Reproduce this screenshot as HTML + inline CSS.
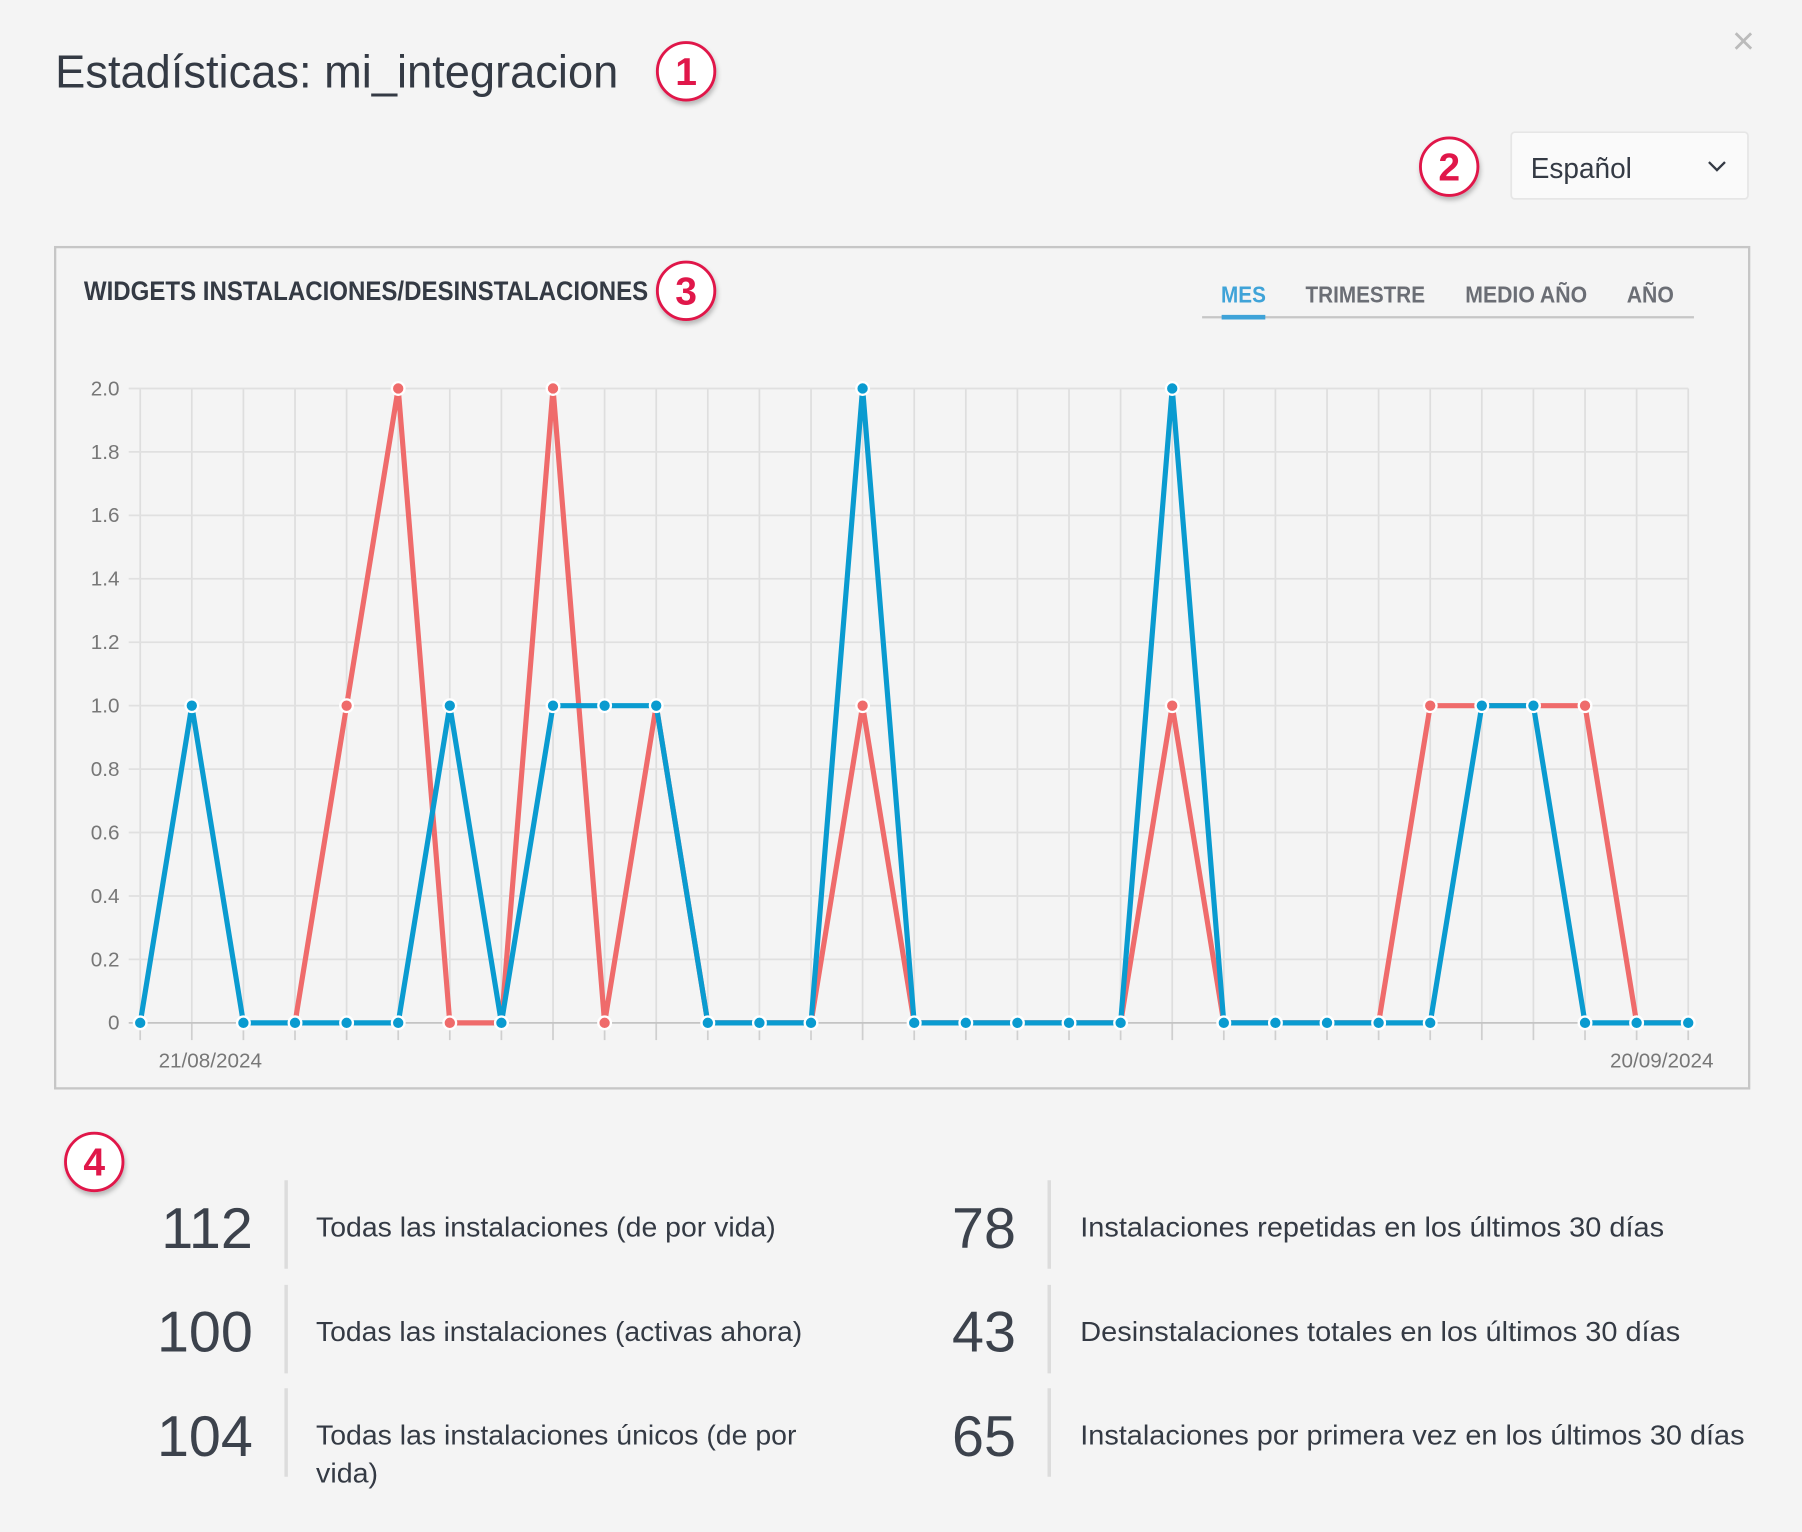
<!DOCTYPE html>
<html><head><meta charset="utf-8"><style>
html,body{margin:0;padding:0;background:#f4f4f4;}
svg{display:block;}
text{font-family:"Liberation Sans Narrow","Liberation Sans",sans-serif;}
</style></head><body>
<svg id="s" width="1802" height="1532" viewBox="0 0 1568 1333" xmlns="http://www.w3.org/2000/svg">
<defs><filter id="sh" x="-30%" y="-30%" width="160%" height="160%"><feDropShadow dx="1" dy="3" stdDeviation="2" flood-color="#000" flood-opacity="0.25"/></filter></defs>
<rect width="1568" height="1333" fill="#f4f4f4"/>
<text x="48" y="76" font-size="40" fill="#343a44" textLength="490" lengthAdjust="spacingAndGlyphs">Estadísticas: mi_integracion</text>
<text x="1517" y="47" font-size="34" fill="#bbb" text-anchor="middle">×</text>
<rect x="1315" y="115" width="206" height="58" rx="3" fill="#fafafa" stroke="#e6e6e6" stroke-width="1.5"/>
<text x="1332" y="155" font-size="25" fill="#343a44" textLength="88" lengthAdjust="spacingAndGlyphs">Español</text>
<path d="M1487 141 L1494 148 L1501 141" fill="none" stroke="#343a44" stroke-width="2"/>
<rect x="48" y="215" width="1474" height="732" fill="none" stroke="#c6c6c6" stroke-width="2"/>
<text x="73" y="261" font-size="23" font-weight="bold" fill="#343a44" textLength="491" lengthAdjust="spacingAndGlyphs">WIDGETS INSTALACIONES/DESINSTALACIONES</text>
<g font-size="20" font-weight="bold" text-anchor="middle">
<text x="1082" y="263" fill="#3fa3d8" textLength="39" lengthAdjust="spacingAndGlyphs">MES</text>
<text x="1188" y="263" fill="#6b6e75" textLength="104" lengthAdjust="spacingAndGlyphs">TRIMESTRE</text>
<text x="1328" y="263" fill="#6b6e75" textLength="106" lengthAdjust="spacingAndGlyphs">MEDIO AÑO</text>
<text x="1436" y="263" fill="#6b6e75" textLength="41" lengthAdjust="spacingAndGlyphs">AÑO</text>
</g>
<line x1="1046" y1="276" x2="1474" y2="276" stroke="#c6c6c6" stroke-width="2"/>
<line x1="1063" y1="276" x2="1101" y2="276" stroke="#3fa3d8" stroke-width="4"/>
<g id="grid"></g>
<g id="series"></g>
<text x="183" y="929" font-size="18" fill="#777" text-anchor="middle">21/08/2024</text>
<text x="1446" y="929" font-size="18" fill="#777" text-anchor="middle">20/09/2024</text>
<g id="badges" font-family="Liberation Sans" font-weight="bold" fill="#e0174a" text-anchor="middle" font-size="34"></g>
<g fill="#343a44">
<g font-size="50" text-anchor="end" fill="#3c424c">
<text x="220" y="1086">112</text><text x="220" y="1176">100</text><text x="220" y="1267">104</text>
<text x="884" y="1086">78</text><text x="884" y="1176">43</text><text x="884" y="1267">65</text>
</g>
<g stroke="#dcdcdc" stroke-width="3">
<line x1="249" y1="1027" x2="249" y2="1104"/><line x1="249" y1="1118" x2="249" y2="1195"/><line x1="249" y1="1208" x2="249" y2="1285"/>
<line x1="913" y1="1027" x2="913" y2="1104"/><line x1="913" y1="1118" x2="913" y2="1195"/><line x1="913" y1="1208" x2="913" y2="1285"/>
</g>
<g font-size="24">
<text x="275" y="1076" textLength="400" lengthAdjust="spacingAndGlyphs">Todas las instalaciones (de por vida)</text>
<text x="275" y="1167" textLength="423" lengthAdjust="spacingAndGlyphs">Todas las instalaciones (activas ahora)</text>
<text x="275" y="1257" textLength="418" lengthAdjust="spacingAndGlyphs">Todas las instalaciones únicos (de por</text>
<text x="275" y="1290" textLength="54" lengthAdjust="spacingAndGlyphs">vida)</text>
<text x="940" y="1076" textLength="508" lengthAdjust="spacingAndGlyphs">Instalaciones repetidas en los últimos 30 días</text>
<text x="940" y="1167" textLength="522" lengthAdjust="spacingAndGlyphs">Desinstalaciones totales en los últimos 30 días</text>
<text x="940" y="1257" textLength="578" lengthAdjust="spacingAndGlyphs">Instalaciones por primera vez en los últimos 30 días</text>
</g>
</g>
</svg>
<script>
var NS="http://www.w3.org/2000/svg";
function el(p,t,a,txt){var e=document.createElementNS(NS,t);for(var k in a)e.setAttribute(k,a[k]);if(txt!=null)e.textContent=txt;p.appendChild(e);return e;}
var g=document.getElementById('grid'),s=document.getElementById('series'),b=document.getElementById('badges');
function X(i){return 122+44.9*i;}function Y(v){return 890-276*v;}
for(var i=0;i<31;i++){el(g,'line',{x1:X(i),y1:338,x2:X(i),y2:890,stroke:'#dedede','stroke-width':1.5});el(g,'line',{x1:X(i),y1:890,x2:X(i),y2:905,stroke:'#cfcfcf','stroke-width':1.5});}
var labs=['0','0.2','0.4','0.6','0.8','1.0','1.2','1.4','1.6','1.8','2.0'];
for(var j=0;j<=10;j++){var y=Y(j*0.2);el(g,'line',{x1:112,y1:y,x2:1469,y2:y,stroke:j==0?'#c4c4c4':'#e0e0e0','stroke-width':1.5});el(g,'text',{x:104,y:y+6,'font-size':18,fill:'#777','text-anchor':'end'},labs[j]);}
var red=[null,null,null,0,1,2,0,0,2,0,1,0,0,0,1,0,0,0,0,0,1,0,0,0,0,1,1,1,1,0,0];
var blue=[0,1,0,0,0,0,1,0,1,1,1,0,0,0,2,0,0,0,0,0,2,0,0,0,0,0,1,1,0,0,0];
function draw(d,c){var p=[];d.forEach(function(v,i){if(v!==null)p.push(X(i)+','+Y(v));});el(s,'polyline',{points:p.join(' '),fill:'none',stroke:c,'stroke-width':4.5,'stroke-linejoin':'miter'});}
function dots(d,c){d.forEach(function(v,i){if(v!==null)el(s,'circle',{cx:X(i),cy:Y(v),r:5.5,fill:c,stroke:'#fff','stroke-width':2});});}
draw(red,'#ef6b6b');dots(red,'#ef6b6b');draw(blue,'#0a9bd0');dots(blue,'#0a9bd0');
[[597,62,'1'],[1261,145,'2'],[597,253,'3'],[82,1011,'4']].forEach(function(c){el(b,'circle',{cx:c[0],cy:c[1],r:25,fill:'#fff',stroke:'#e0174a','stroke-width':2.5,filter:'url(#sh)'});el(b,'text',{x:c[0],y:c[1]+12},c[2]);});
</script>
</body></html>
